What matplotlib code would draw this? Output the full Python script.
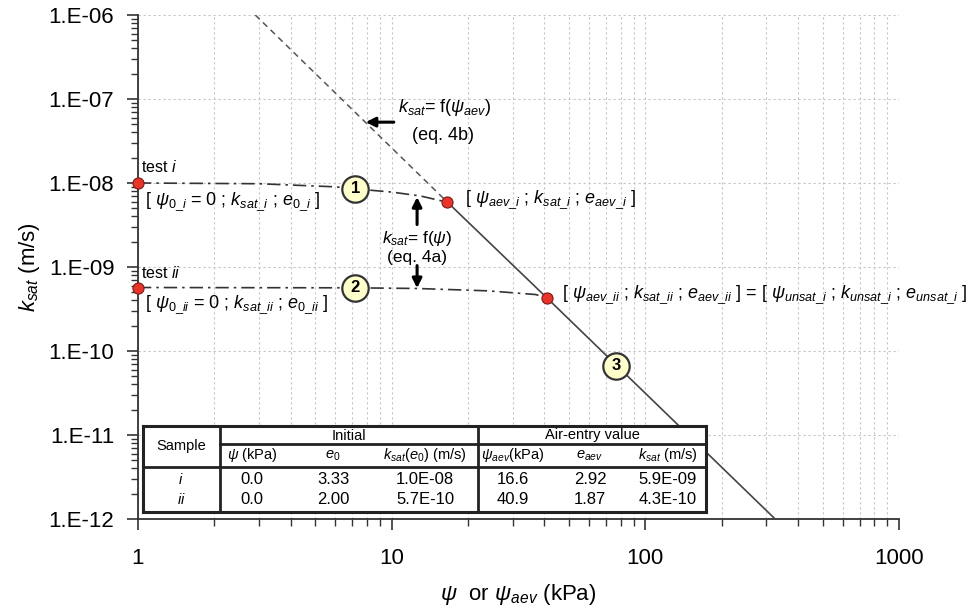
import numpy as np
import matplotlib
matplotlib.use("Agg")
import matplotlib.pyplot as plt
from matplotlib.ticker import LogLocator, FuncFormatter, NullFormatter

plt.rcParams["font.family"] = ["Liberation Sans", "DejaVu Sans"]
plt.rcParams["mathtext.fontset"] = "custom"
plt.rcParams["mathtext.rm"] = "Liberation Sans"
plt.rcParams["mathtext.it"] = "Liberation Sans:italic"
plt.rcParams["mathtext.bf"] = "Liberation Sans:bold"

# ---- data ----
# air-entry line (eq. 4b dashed above test i, solid below)
aev_psi_dashed = [2.9, 16.6]
aev_k_dashed = [1.0e-6, 5.9e-9]
aev_psi_solid = [16.6, 40.9, 325.0]
aev_k_solid = [5.9e-9, 4.3e-10, 1.0e-12]

# k_sat = f(psi) curves (eq. 4a)
curve_i_psi = [1.0, 3.0, 6.0, 7.2, 10.0, 13.0, 16.6]
curve_i_k = [1.0e-8, 9.8e-9, 9.0e-9, 8.5e-9, 7.8e-9, 7.0e-9, 5.9e-9]
curve_ii_psi = [1.0, 7.2, 12.6, 24.0, 37.0, 40.9]
curve_ii_k = [5.7e-10, 5.65e-10, 5.55e-10, 5.2e-10, 4.7e-10, 4.3e-10]

# red points: initial state and air-entry state of each test
pts_psi = [1.0, 16.6, 1.0, 40.9]
pts_k = [1.0e-8, 5.9e-9, 5.7e-10, 4.3e-10]

# numbered circles
circ_psi = [7.2, 7.2, 77.0]
circ_k = [8.5e-9, 5.65e-10, 6.7e-11]
circ_labels = ["1", "2", "3"]

# table
tbl_samples = ["i", "ii"]
tbl_psi0 = ["0.0", "0.0"]
tbl_e0 = ["3.33", "2.00"]
tbl_k0 = ["1.0E-08", "5.7E-10"]
tbl_psiaev = ["16.6", "40.9"]
tbl_eaev = ["2.92", "1.87"]
tbl_kaev = ["5.9E-09", "4.3E-10"]

dark = "#333333"

fig = plt.figure(figsize=(9.75, 6.14), dpi=100)
ax = fig.add_axes([0.1415, 0.1547, 0.7805, 0.8209])
ax.set_xscale("log")
ax.set_yscale("log")
ax.set_xlim(1, 1000)
ax.set_ylim(1e-12, 1e-6)

# grid
ax.xaxis.set_minor_locator(LogLocator(base=10, subs=np.arange(2, 10)))
ax.yaxis.set_minor_locator(LogLocator(base=10, subs=np.arange(2, 10)))
ax.xaxis.set_minor_formatter(NullFormatter())
ax.yaxis.set_minor_formatter(NullFormatter())
ax.grid(True, which="major", axis="both", color="#c4c4c4", linestyle=(0, (2, 2.5)), lw=0.8)
ax.grid(True, which="minor", axis="x", color="#c4c4c4", linestyle=(0, (2, 2.5)), lw=0.8)
ax.set_axisbelow(True)

ax.xaxis.set_major_formatter(FuncFormatter(lambda v, p: f"{v:g}"))
ax.yaxis.set_major_formatter(FuncFormatter(lambda v, p: f"1.E-{-int(round(np.log10(v))):02d}"))

for s in ["top", "right"]:
    ax.spines[s].set_visible(False)
for s in ["left", "bottom"]:
    ax.spines[s].set_color(dark)
    ax.spines[s].set_linewidth(1.3)
ax.tick_params(which="major", direction="out", length=8, width=1.2, color=dark,
               labelsize=16)
ax.tick_params(which="minor", direction="out", length=5, width=1.0, color=dark)
ax.tick_params(axis="x", which="major", pad=13)
ax.tick_params(axis="y", which="major", pad=9)

ax.set_xlabel(r"$\psi$  or $\psi_{aev}$ (kPa)", fontsize=16, labelpad=9)
ax.set_ylabel(r"$k_{sat}$ (m/s)", fontsize=16, labelpad=5)

# lines
ax.plot(aev_psi_dashed, aev_k_dashed, color="#555555", lw=1.1, ls=(0, (4, 3)), zorder=3)
ax.plot(aev_psi_solid, aev_k_solid, color="#444444", lw=1.2, zorder=3)
ax.plot(curve_i_psi, curve_i_k, color=dark, lw=1.2, ls=(0, (8, 3, 1.5, 3)), zorder=3)
ax.plot(curve_ii_psi, curve_ii_k, color=dark, lw=1.2, ls=(0, (8, 3, 1.5, 3)), zorder=3)

ax.plot(pts_psi, pts_k, ls="none", marker="o", ms=8, mfc="#e8352b", mec="#7a1a14",
        mew=0.8, zorder=5, clip_on=False)

ax.plot(circ_psi, circ_k, ls="none", marker="o", ms=19, mfc="#ffffcc", mec=dark,
        mew=1.6, zorder=6)
for px, py, lab in zip(circ_psi, circ_k, circ_labels):
    ax.text(px, py, lab, ha="center", va="center", fontsize=12, fontweight="bold",
            zorder=7)

# annotations
ax.text(1.03, 1.55e-8, r"test $i$", fontsize=11.5, va="center", ha="left")
ax.text(1.03, 8.4e-10, r"test $ii$", fontsize=11.5, va="center", ha="left")
ax.text(1.07, 6.0e-9, r"[ $\psi_{0\_i}$ = 0 ; $k_{sat\_i}$ ; $e_{0\_i}$ ]",
        fontsize=13, va="center", ha="left")
ax.text(1.07, 3.5e-10, r"[ $\psi_{0\_ii}$ = 0 ; $k_{sat\_ii}$ ; $e_{0\_ii}$ ]",
        fontsize=13, va="center", ha="left")
ax.text(19.5, 6.3e-9, r"[ $\psi_{aev\_i}$ ; $k_{sat\_i}$ ; $e_{aev\_i}$ ]",
        fontsize=13, va="center", ha="left")
ax.text(47.0, 4.6e-10,
        r"[ $\psi_{aev\_ii}$ ; $k_{sat\_ii}$ ; $e_{aev\_ii}$ ] = "
        r"[ $\psi_{unsat\_i}$ ; $k_{unsat\_i}$ ; $e_{unsat\_i}$ ]",
        fontsize=13, va="center", ha="left")

ax.text(10.6, 8.0e-8, r"$k_{sat}$= f($\psi_{aev}$)", fontsize=13, va="center", ha="left")
ax.text(16.0, 3.7e-8, "(eq. 4b)", fontsize=13, va="center", ha="center")
ax.annotate("", xy=(7.9, 5.3e-8), xytext=(10.2, 5.3e-8),
            arrowprops=dict(arrowstyle="-|>", color="black", lw=2.2, mutation_scale=14,
                            shrinkA=0, shrinkB=0))

ax.text(12.6, 2.2e-9, r"$k_{sat}$= f($\psi$)", fontsize=12.5, va="center", ha="center")
ax.text(12.6, 1.28e-9, "(eq. 4a)", fontsize=12.5, va="center", ha="center")
ax.annotate("", xy=(12.6, 6.8e-9), xytext=(12.6, 3.2e-9),
            arrowprops=dict(arrowstyle="-|>", color="black", lw=2.2, mutation_scale=14,
                            shrinkA=0, shrinkB=0))
ax.annotate("", xy=(12.6, 5.6e-10), xytext=(12.6, 1.04e-9),
            arrowprops=dict(arrowstyle="-|>", color="black", lw=2.2, mutation_scale=14,
                            shrinkA=0, shrinkB=0))

# ---- table as an inset drawn in pixel-like units ----
tw, th = 563.0, 86.0
tax = fig.add_axes([143 / 975, 1 - 512 / 614, tw / 975, th / 614], zorder=10)
tax.set_xlim(0, tw)
tax.set_ylim(th, 0)
tax.set_xticks([])
tax.set_yticks([])
for s in tax.spines.values():
    s.set_linewidth(2.2)
    s.set_color("#222222")
tax.set_facecolor("white")

lk = dict(color="#222222", lw=2.0)
tax.plot([77, 77], [0, th], **lk)
tax.plot([335, 335], [0, th], **lk)
tax.plot([77, tw], [18, 18], **lk)
tax.plot([0, tw], [41, 41], **lk)

fs = 10.5
fs_val = 12
tax.text(38, 20, "Sample", ha="center", va="center", fontsize=fs)
tax.text(206, 9.5, "Initial", ha="center", va="center", fontsize=fs)
tax.text(449, 9.5, "Air-entry value", ha="center", va="center", fontsize=fs)
heads = [r"$\psi$ (kPa)", r"$e_0$", r"$k_{sat}(e_0)$ (m/s)",
         r"$\psi_{aev}$(kPa)", r"$e_{aev}$", r"$k_{sat}$ (m/s)"]
cols_x = [109, 190, 282, 370, 447, 525]
for cx, h in zip(cols_x, heads):
    tax.text(cx, 29.5, h, ha="center", va="center", fontsize=fs)
rows_y = [54, 74]
for r, ry in enumerate(rows_y):
    tax.text(38, ry, rf"${tbl_samples[r]}$", ha="center", va="center", fontsize=fs)
    vals = [tbl_psi0[r], tbl_e0[r], tbl_k0[r], tbl_psiaev[r], tbl_eaev[r], tbl_kaev[r]]
    for cx, v in zip(cols_x, vals):
        tax.text(cx, ry, v, ha="center", va="center", fontsize=fs_val)

fig.savefig("out.png", dpi=100)
